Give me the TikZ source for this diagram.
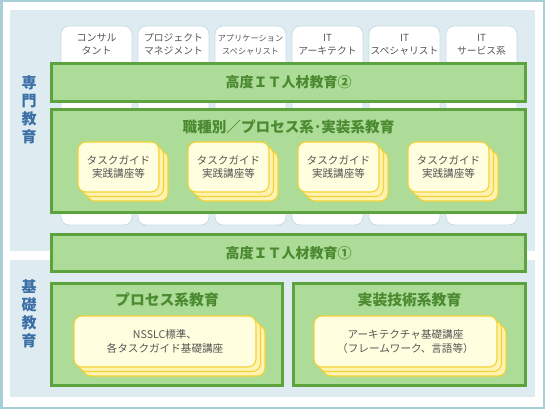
\documentclass[tikz,border=0pt]{standalone}
\usepackage{fontspec}
\setmainfont{Noto Sans CJK JP}
\definecolor{frameblue}{HTML}{A6CFD8}
\definecolor{panelblue}{HTML}{DEECF1}
\definecolor{tabline}{HTML}{C7DCE5}
\definecolor{barfill}{HTML}{ACDC98}
\definecolor{barline}{HTML}{5CA33D}
\definecolor{bartext}{HTML}{4B8A30}
\definecolor{cardfill}{HTML}{FFFFE0}
\definecolor{cardback}{HTML}{FFF3B4}
\definecolor{cardline}{HTML}{F5D233}
\definecolor{sidetext}{HTML}{3B6FA6}
\definecolor{greytext}{HTML}{555555}
\tikzset{
  panel/.style={fill=panelblue, draw=none},
  tab/.style={draw=tabline, fill=white, rounded corners=8pt, line width=0.8pt,
    minimum width=71pt, minimum height=199pt, inner sep=0pt},
  tabtext/.style={text=greytext, align=center, inner sep=0pt},
  bar/.style={draw=barline, fill=barfill, line width=3pt, inner sep=0pt,
    text=bartext, font=\fontsize{14}{16}\selectfont\bfseries},
  bartitle/.style={text=bartext, font=\fontsize{14.8}{16}\selectfont\bfseries, inner sep=0pt},
  card/.style={draw=cardline, fill=cardfill, rounded corners=8pt, line width=1.1pt,
    inner sep=0pt, text=greytext, align=center, font=\fontsize{10.6}{12.5}\selectfont},
  cardlayer/.style={draw=cardline, fill=cardback, rounded corners=8pt, line width=1.1pt},
  sidelabel/.style={text=sidetext, align=center, inner sep=0pt,
    font=\fontsize{15}{18}\selectfont\bfseries}
}
\begin{document}
\begin{tikzpicture}[x=1pt, y=-1pt]
  \useasboundingbox (0,0) rectangle (545,409);
  % frame and panels
  \draw[frameblue, line width=2.5pt] (1.25,1.25) rectangle (543.75,407.75);
  \fill[panel] (10,10) rectangle (535,251);
  \fill[panel] (10,260) rectangle (535,397);

  % job type tabs
  \foreach \i/\fs/\txt in {0/10/{コンサル\\タント}, 1/9.8/{プロジェクト\\マネジメント},
      2/8.2/{アプリケーション\\スペシャリスト}, 3/9.8/{IT\\アーキテクト},
      4/9.8/{IT\\スペシャリスト}, 5/9.8/{IT\\サービス系}} {
    \node[tab] (tab\i) at ({96.5+77*\i},125.5) {};
    \node[tabtext, font=\fontsize{\fs}{13}\selectfont] (tabtext\i) at ({96.5+77*\i},44.5) {\txt};
  }

  % side labels
  \node[sidelabel] (senmon) at (29,110) {専\\門\\教\\育};
  \node[sidelabel] (kiso) at (29,314) {基\\礎\\教\\育};

  % bars
  \node[bar, minimum width=474pt, minimum height=38pt] (adv2) at (288.5,82.5) {高度ＩＴ人材教育②};
  \node[bar, minimum width=474pt, minimum height=103pt] (jobbox) at (288.5,161) {};
  \node[bartitle, font=\fontsize{14.6}{16}\selectfont\bfseries] (jobtitle) at (288.5,127)
    {職種別／プロセス系･実装系教育};
  \node[bar, minimum width=474pt, minimum height=37pt] (adv1) at (288.5,253) {高度ＩＴ人材教育①};
  \node[bar, minimum width=231pt, minimum height=102pt] (procbox) at (167,334.5) {};
  \node[bartitle] (proctitle) at (167,300) {プロセス系教育};
  \node[bar, minimum width=232pt, minimum height=102pt] (implbox) at (409.5,334.5) {};
  \node[bartitle] (impltitle) at (409.5,300) {実装技術系教育};

  % task guide cards
  \foreach \i in {0,1,2,3} {
    \foreach \d in {9,4.5}
      \draw[cardlayer] ({78+110*\i+\d},{142+\d}) rectangle ({159+110*\i+\d},{192+\d});
    \node[card, minimum width=81pt, minimum height=50pt] (task\i) at ({118.5+110*\i},167)
      {タスクガイド\\実践講座等};
  }

  % basic course cards
  \foreach \d in {9,4.5} {
    \draw[cardlayer] (74+\d,316+\d) rectangle (256+\d,367+\d);
    \draw[cardlayer] (314+\d,316+\d) rectangle (497+\d,367+\d);
  }
  \node[card, minimum width=182pt, minimum height=51pt, font=\fontsize{10.6}{14}\selectfont]
    (nsslc) at (165,341.5) {NSSLC標準、\\各タスクガイド基礎講座};
  \node[card, minimum width=183pt, minimum height=51pt, font=\fontsize{10.6}{14}\selectfont]
    (arch) at (405.5,341.5) {アーキテクチャ基礎講座\\（フレームワーク、言語等）};
\end{tikzpicture}
\end{document}
